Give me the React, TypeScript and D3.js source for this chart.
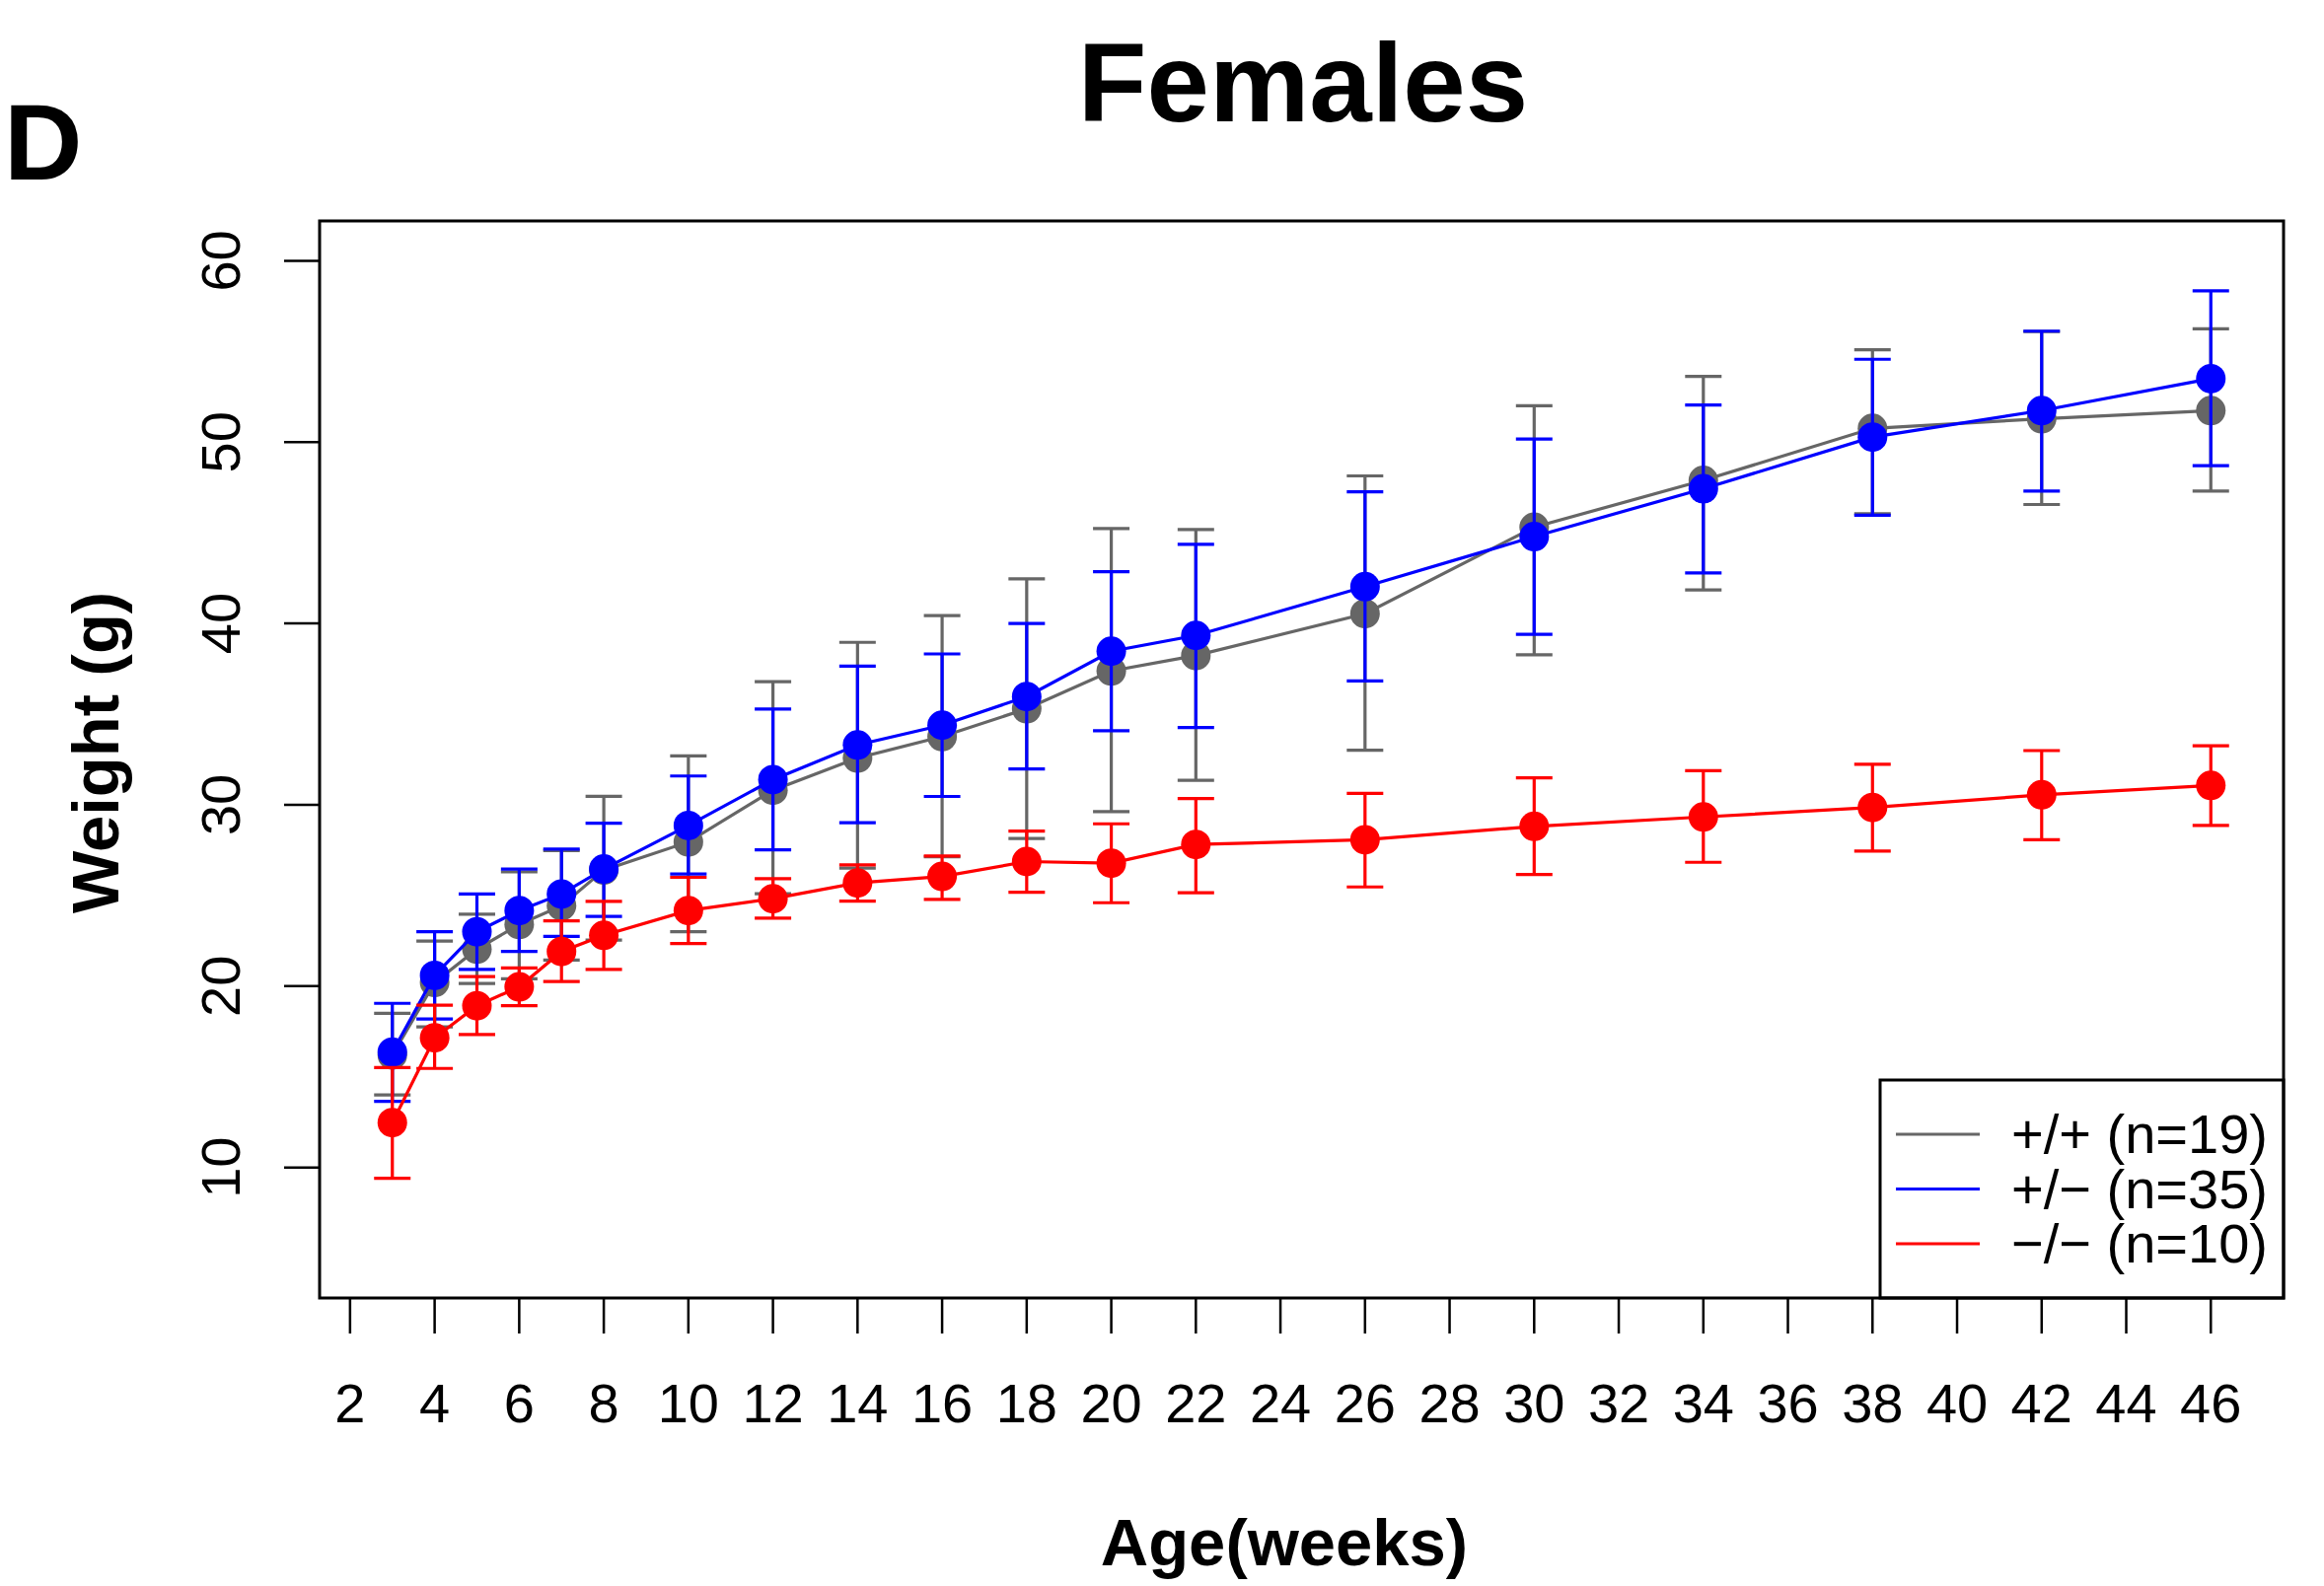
import React from "react";
import * as d3 from "d3";

const weeks = [3, 4, 5, 6, 7, 8, 10, 12, 14, 16, 18, 20, 22, 26, 30, 34, 38, 42, 46];

const wtMean = [16.2, 20.2, 22.04, 23.4, 24.43, 26.4, 27.95, 30.8, 32.58, 33.76, 35.3, 37.38, 38.23, 40.54, 45.31, 47.89, 50.76, 51.29, 51.74];
const wtUpper = [18.5, 22.48, 23.97, 26.3, 27.48, 30.47, 32.7, 36.79, 38.96, 40.43, 42.46, 45.23, 45.18, 48.14, 52.01, 53.63, 55.09, 56.1, 56.25];
const wtLower = [14.0, 17.75, 20.14, 20.4, 21.44, 22.54, 23.0, 25.1, 26.51, 27.14, 28.14, 29.62, 31.35, 33.01, 38.27, 41.85, 46.05, 46.56, 47.3];

const hetMean = [16.36, 20.59, 23.0, 24.17, 25.08, 26.46, 28.86, 31.39, 33.3, 34.39, 35.97, 38.47, 39.34, 42.03, 44.79, 47.43, 50.28, 51.74, 53.5];
const hetUpper = [19.05, 23.0, 25.08, 26.46, 27.56, 28.99, 31.59, 35.28, 37.65, 38.32, 40.0, 42.86, 44.36, 47.26, 50.17, 52.05, 54.57, 56.12, 58.35];
const hetLower = [13.64, 18.19, 20.92, 21.91, 22.74, 23.84, 26.18, 27.52, 29.01, 30.46, 31.98, 34.08, 34.26, 36.83, 39.4, 42.79, 45.97, 47.3, 48.7];

const koMean = [12.47, 17.15, 18.92, 19.96, 21.91, 22.8, 24.17, 24.82, 25.69, 26.05, 26.87, 26.78, 27.81, 28.07, 28.81, 29.33, 29.85, 30.55, 31.07];
const koUpper = [15.51, 18.95, 20.53, 21.0, 23.6, 24.67, 26.0, 25.93, 26.69, 27.18, 28.55, 28.95, 30.35, 30.63, 31.49, 31.88, 32.24, 32.99, 33.26];
const koLower = [9.4, 15.46, 17.33, 18.92, 20.25, 20.92, 22.35, 23.75, 24.69, 24.78, 25.18, 24.6, 25.15, 25.47, 26.16, 26.83, 27.45, 28.07, 28.86];

const xTicks = d3.range(2, 47, 2);
const yTicks = [10, 20, 30, 40, 50, 60];

const seriesLabels = ["+/+ (n=19)", "+/\u2212 (n=35)", "\u2212/\u2212 (n=10)"];
const seriesColors = ["#666666", "#0000ff", "#ff0000"];

const FONT = "'Liberation Sans', Arial, Helvetica, sans-serif";

export default function App() {
  const W = 2356;
  const H = 1608;
  const left = 324, right = 2315, top = 224, bottom = 1316;
  const xMin = 3, xMax = 46, yMin = 5, yMax = 60;
  const xPad = (xMax - xMin) * 0.04;
  const yPad = (yMax - yMin) * 0.04;
  const x = d3.scaleLinear().domain([xMin - xPad, xMax + xPad]).range([left, right]);
  const y = d3.scaleLinear().domain([yMin - yPad, yMax + yPad]).range([bottom, top]);

  const series = [
    { mean: wtMean, up: wtUpper, lo: wtLower, color: seriesColors[0] },
    { mean: hetMean, up: hetUpper, lo: hetLower, color: seriesColors[1] },
    { mean: koMean, up: koUpper, lo: koLower, color: seriesColors[2] },
  ];

  const line = d3
    .line<number>()
    .x((_, i) => x(weeks[i]))
    .y((d) => y(d));

  const cap = 18.5;
  const r = 15;
  const lw = 3.2;

  const legLeft = 1906, legTop = 1095;
  const legY0 = 1150, legDy = 55.5;

  return (
    <svg
      width={W}
      height={H}
      style={{ position: "absolute", left: 0, top: 0, background: "#fff" }}
      fontFamily={FONT}
    >
      <rect x={0} y={0} width={W} height={H} fill="#fff" />
      <text x={1321} y={123} fontSize={114} fontWeight="bold" textAnchor="middle">
        Females
      </text>
      <text x={4} y={182} fontSize={110} fontWeight="bold">
        D
      </text>

      {series.map((s, si) => (
        <g key={si}>
          <path d={line(s.mean) || ""} fill="none" stroke={s.color} strokeWidth={lw} />
          {weeks.map((w, i) => (
            <g key={i} stroke={s.color} strokeWidth={lw}>
              <line x1={x(w)} x2={x(w)} y1={y(s.lo[i])} y2={y(s.up[i])} />
              <line x1={x(w) - cap} x2={x(w) + cap} y1={y(s.up[i])} y2={y(s.up[i])} />
              <line x1={x(w) - cap} x2={x(w) + cap} y1={y(s.lo[i])} y2={y(s.lo[i])} />
            </g>
          ))}
          {weeks.map((w, i) => (
            <circle key={"p" + i} cx={x(w)} cy={y(s.mean[i])} r={r} fill={s.color} />
          ))}
        </g>
      ))}

      <rect
        x={legLeft}
        y={legTop}
        width={right - legLeft}
        height={bottom - legTop}
        fill="#fff"
        stroke="#000"
        strokeWidth={3}
      />
      {seriesLabels.map((lab, i) => (
        <g key={lab}>
          <line
            x1={1922}
            x2={2007}
            y1={legY0 + i * legDy}
            y2={legY0 + i * legDy}
            stroke={seriesColors[i]}
            strokeWidth={3.2}
          />
          <text x={2039} y={legY0 + i * legDy + 19} fontSize={56}>
            {lab}
          </text>
        </g>
      ))}

      <rect
        x={left}
        y={top}
        width={right - left}
        height={bottom - top}
        fill="none"
        stroke="#000"
        strokeWidth={3}
      />

      {xTicks.map((t) => (
        <g key={"xt" + t}>
          <line x1={x(t)} x2={x(t)} y1={bottom} y2={bottom + 36} stroke="#000" strokeWidth={2.5} />
          <text x={x(t)} y={1442} fontSize={56} textAnchor="middle">
            {t}
          </text>
        </g>
      ))}
      <text x={1302} y={1587} fontSize={67} fontWeight="bold" textAnchor="middle">
        Age(weeks)
      </text>

      {yTicks.map((t) => (
        <g key={"yt" + t}>
          <line x1={left - 36} x2={left} y1={y(t)} y2={y(t)} stroke="#000" strokeWidth={2.5} />
          <text
            transform={`translate(243,${y(t)}) rotate(-90)`}
            fontSize={56}
            textAnchor="middle"
          >
            {t}
          </text>
        </g>
      ))}
      <text
        transform={`translate(120,763) rotate(-90)`}
        fontSize={67}
        fontWeight="bold"
        textAnchor="middle"
      >
        Weight (g)
      </text>
    </svg>
  );
}
